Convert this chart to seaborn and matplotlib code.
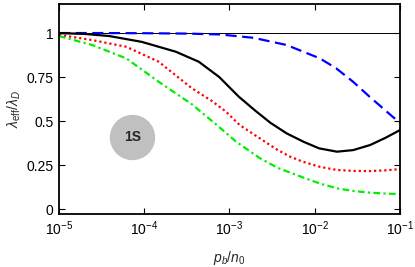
import numpy as np
import pandas as pd
import seaborn as sns
import matplotlib
matplotlib.use("Agg")
import matplotlib.pyplot as plt

# --- data (x given as log10 exponents of p_b/n_0) ---
black_exp = [-5, -4.7, -4.41, -4.03, -3.63, -3.36, -3.12, -2.89, -2.7, -2.52, -2.33, -2.13, -1.95, -1.74, -1.55, -1.35, -1.17, -1.0]
black_val = [1.0, 0.995, 0.983, 0.95, 0.894, 0.837, 0.75, 0.638, 0.56, 0.49, 0.43, 0.382, 0.345, 0.326, 0.335, 0.364, 0.405, 0.449]

red_exp = [-5, -4.61, -4.21, -3.83, -3.44, -3.21, -3.04, -2.88, -2.67, -2.45, -2.3, -2.14, -1.94, -1.74, -1.55, -1.35, -1.17, -1.0]
red_val = [0.99, 0.96, 0.922, 0.837, 0.686, 0.615, 0.553, 0.477, 0.41, 0.34, 0.3, 0.269, 0.24, 0.222, 0.217, 0.216, 0.22, 0.227]

green_exp = [-5, -4.61, -4.21, -3.83, -3.44, -3.16, -2.92, -2.64, -2.43, -2.14, -1.94, -1.74, -1.55, -1.35, -1.17, -1.0]
green_val = [0.983, 0.932, 0.856, 0.723, 0.595, 0.482, 0.382, 0.288, 0.233, 0.18, 0.145, 0.118, 0.103, 0.093, 0.088, 0.085]

blue_exp = [-5, -4.5, -4.0, -3.5, -3.11, -2.72, -2.33, -1.94, -1.75, -1.55, -1.35, -1.23, -1.1, -1.0]
blue_val = [1.0, 1.0, 0.999, 0.997, 0.992, 0.973, 0.932, 0.856, 0.8, 0.723, 0.635, 0.585, 0.53, 0.49]

label_pos = (10**-4.14, 0.41)
label_text = "1S"

sns.set_theme(style="ticks")
plt.rcParams['font.family'] = ['Liberation Sans', 'DejaVu Sans']
plt.rcParams['mathtext.fontset'] = 'custom'
plt.rcParams['mathtext.rm'] = 'Liberation Sans'
plt.rcParams['mathtext.it'] = 'Liberation Sans:italic'

fig = plt.figure(figsize=(4.15, 2.67), dpi=100)
ax = fig.add_axes([0.142, 0.1985, 0.822, 0.7865])

ax.axhline(1.0, color='black', lw=0.7)

series = [
    (blue_exp, blue_val, 'blue', (5, 2.5)),
    (black_exp, black_val, 'black', None),
    (red_exp, red_val, 'red', (1, 1.3)),
    (green_exp, green_val, '#00ee00', (3, 1.5, 1, 1.5)),
]
for exp, val, col, dash in series:
    df = pd.DataFrame({'x': 10.0 ** np.array(exp), 'y': val})
    kw = {} if dash is None else {'dashes': dash}
    sns.lineplot(data=df, x='x', y='y', ax=ax, color=col, lw=1.6, **kw)

ax.scatter([label_pos[0]], [label_pos[1]], s=1000, color='#c0c0c0', zorder=3)
ax.text(label_pos[0], label_pos[1], label_text, ha='center', va='center',
        fontsize=10, fontweight='bold', zorder=4)

ax.set_xscale('log')
ax.set_xlim(1e-5, 1e-1)
ax.set_ylim(-0.028, 1.165)
ax.set_xticks([1e-5, 1e-4, 1e-3, 1e-2, 1e-1])
ax.set_xticklabels([r'$10^{-5}$', r'$10^{-4}$', r'$10^{-3}$', r'$10^{-2}$', r'$10^{-1}$'])
ax.xaxis.set_minor_locator(matplotlib.ticker.NullLocator())
ax.set_yticks([0, 0.25, 0.5, 0.75, 1])
ax.set_yticklabels(['0', '0.25', '0.5', '0.75', '1'])
ax.tick_params(direction='in', top=True, right=True, length=4, width=0.8,
               labelsize=10, colors='black', pad=4)
for s in ax.spines.values():
    s.set_linewidth(1.3)
    s.set_color('black')

ax.set_xlabel(r'$p_b/n_0$', fontsize=10, labelpad=8)
ax.set_ylabel(r'$\lambda_{\rm eff}/\lambda_D$', fontsize=10, labelpad=2)

fig.savefig('out.png', dpi=100)
